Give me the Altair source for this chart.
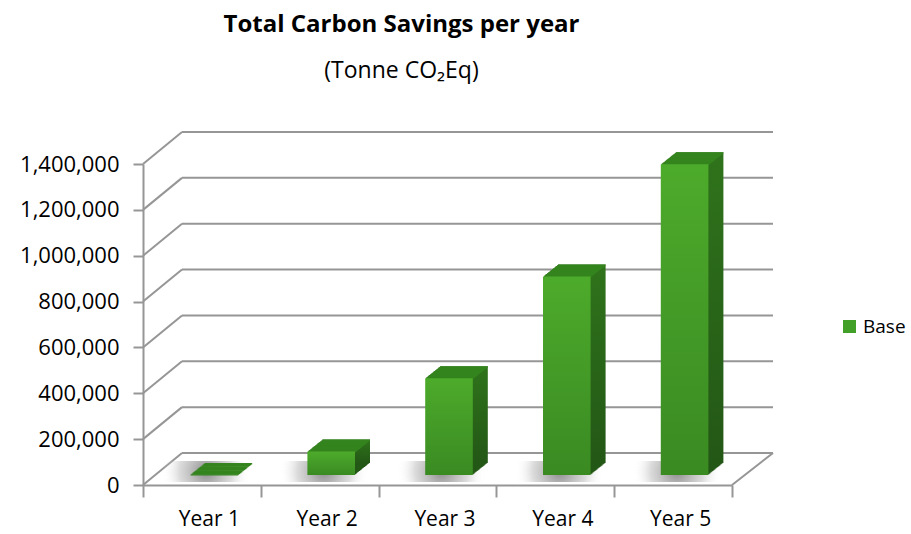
import altair as alt
import pandas as pd

# ---- data ----
years = ["Year 1", "Year 2", "Year 3", "Year 4", "Year 5"]
savings = [0, 102000, 422000, 866000, 1355000]
series = ["Base", "Base", "Base", "Base", "Base"]
tick_values = [0, 200000, 400000, 600000, 800000, 1000000, 1200000, 1400000]

# ---- layout / style constants ----
W, H = 589, 321          # front plane of the plot
DX, DY = 39, 32          # depth of the walls (px)
BAR_W = 47.6             # bar front face width
BX, BY = 11.5, 10        # bar front face shift into depth
EX, EY = 15, 12          # bar extrusion depth
N = 15                   # extrusion steps
GRID = "#969696"
FONT = "Open Sans"

bars = pd.DataFrame({"year": years, "value": savings, "series": series})
grid = pd.DataFrame({"v": tick_values})
floor = pd.DataFrame({"v": [0]})

xenc = alt.X(
    "year:N", sort=years, title=None,
    scale=alt.Scale(paddingInner=0, paddingOuter=0),
    axis=alt.Axis(tickBand="extent", tickSize=12, tickWidth=2, tickColor=GRID,
                  domainColor=GRID, domainWidth=2, labelAngle=0,
                  labelFont=FONT, labelFontSize=21, labelColor="#000000",
                  labelPadding=11, labelOffset=7),
)
yscale = alt.Scale(domain=[0, 1400000], nice=False)
yaxis = alt.Axis(values=tick_values, format=",.0f", grid=False, tickSize=10, tickWidth=2,
                 tickColor=GRID, domainColor=GRID, domainWidth=2,
                 labelFont=FONT, labelFontSize=22, labelColor="#000000", labelPadding=14)


def Y(field):
    return alt.Y(field, title=None, scale=yscale, axis=yaxis)


yenc = Y("value:Q")

# back wall gridlines
back = alt.Chart(grid).mark_rule(color=GRID, strokeWidth=2, xOffset=DX, x2Offset=DX + 2,
                                 yOffset=-DY).encode(
    x=alt.value(0), x2=alt.value(W), y=Y("v:Q"))

# left wall diagonals
left = alt.Chart(grid).mark_rule(color=GRID, strokeWidth=2, y2Offset=-DY).encode(
    x=alt.value(0), x2=alt.value(DX), y=Y("v:Q"), y2=alt.Y2("v"))

# floor right edge
floor_r = alt.Chart(floor).mark_rule(color=GRID, strokeWidth=2, y2Offset=-DY).encode(
    x=alt.value(W), x2=alt.value(W + DX + 2), y=Y("v:Q"), y2=alt.Y2("v"))

# soft shadow on the floor
shadow_grad = {
    "gradient": "radial", "x1": 0.5, "y1": 0.5, "r1": 0, "x2": 0.5, "y2": 0.5, "r2": 0.5,
    "stops": [{"offset": 0, "color": "rgba(100,100,100,0.75)"},
              {"offset": 0.6, "color": "rgba(150,150,150,0.35)"},
              {"offset": 1, "color": "rgba(255,255,255,0)"}],
}
shadow = alt.Chart(bars).mark_bar(width=88, xOffset=4, yOffset=-24, y2Offset=-3,
                                  color=shadow_grad).encode(
    x=xenc, y=alt.datum(0, scale=yscale, axis=yaxis, title=None), y2=alt.datum(0))

front_grad = alt.Gradient(gradient="linear", x1=0, y1=0, x2=0, y2=1, stops=[
    alt.GradientStop(color="#4dab2b", offset=0),
    alt.GradientStop(color="#3a8a22", offset=1)])
side_grad = alt.Gradient(gradient="linear", x1=0, y1=0, x2=0, y2=1, stops=[
    alt.GradientStop(color="#2f731b", offset=0),
    alt.GradientStop(color="#235716", offset=1)])
TOP = "#35841f"

side_layers = []
top_layers = []
for i in range(1, N + 1):
    t = i / N
    ox = BX + EX * t
    oy = -BY - EY * t
    side_layers.append(
        alt.Chart(bars).mark_bar(width=BAR_W, xOffset=ox, yOffset=oy, y2Offset=oy,
                                 color=side_grad).encode(
            x=xenc, y=yenc, y2=alt.datum(0)))
    top_layers.append(
        alt.Chart(bars).mark_bar(width=BAR_W, xOffset=ox, yOffset=oy, y2Offset=oy + 1.4,
                                 color=TOP).encode(
            x=xenc, y=yenc, y2=alt.Y2("value")))

front = alt.Chart(bars).mark_bar(width=BAR_W, xOffset=BX, yOffset=-BY, y2Offset=-BY,
                                 color=front_grad).encode(
    x=xenc, y=yenc, y2=alt.datum(0))

legend_layer = alt.Chart(bars).mark_square(size=0, filled=True).encode(
    x=xenc, y=yenc,
    color=alt.Color("series:N", scale=alt.Scale(range=["#42a028"]),
                    legend=alt.Legend(title=None, orient="none", legendX=697, legendY=153,
                                      symbolType="square", symbolSize=170, symbolStrokeWidth=0,
                                      symbolOpacity=1,
                                      labelFont=FONT, labelFontSize=19, labelColor="#000000",
                                      labelOffset=4)))

chart = alt.layer(
    back, left, floor_r, shadow, *side_layers, *top_layers, front, legend_layer
).properties(
    width=W, height=H,
    title=alt.TitleParams(
        text="Total Carbon Savings per year", subtitle="(Tonne CO₂Eq)",
        font=FONT, fontSize=24, fontWeight="bold", color="#000000",
        subtitleFont=FONT, subtitleFontSize=23, subtitleColor="#000000",
        subtitlePadding=23, anchor="middle", frame="group", dx=-36, offset=48),
    padding={"left": 143, "top": 164, "right": 179, "bottom": 49},
    autosize=alt.AutoSizeParams(type="none"),
).configure(background="white").configure_view(stroke=None)

chart.save("out.html", embed_options={"renderer": "svg", "actions": False})
